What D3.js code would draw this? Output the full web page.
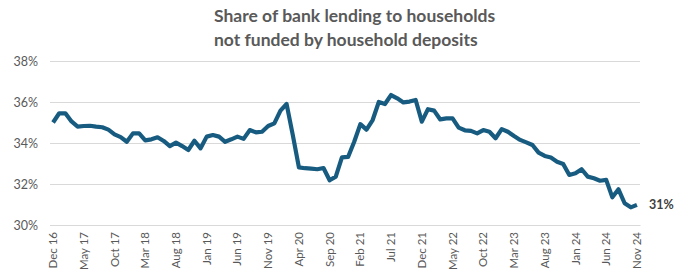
<!DOCTYPE html>
<html>
<head>
<meta charset="utf-8">
<script src="https://cdn.jsdelivr.net/npm/d3@7"></script>
<style>
  html, body { margin: 0; padding: 0; background: #ffffff; }
  svg { display: block; }
</style>
</head>
<body>
<svg id="chart" width="683" height="271"></svg>
<script>
// Monthly observations, Dec 2016 to Nov 2024
const monthNames = ["Jan","Feb","Mar","Apr","May","Jun","Jul","Aug","Sep","Oct","Nov","Dec"];
const startYear = 2016, startMonth = 11; // Dec 2016

const shareValues = [
  35.0, 35.45, 35.45, 35.05, 34.8, 34.83, 34.84, 34.8, 34.77, 34.65,
  34.42, 34.29, 34.06, 34.47, 34.47, 34.13, 34.18, 34.28, 34.1, 33.85,
  34.02, 33.85, 33.66, 34.11, 33.74, 34.31, 34.39, 34.31, 34.06, 34.18,
  34.31, 34.2, 34.63, 34.52, 34.55, 34.83, 34.96, 35.58, 35.9, 34.4,
  32.81, 32.77, 32.75, 32.72, 32.78, 32.18, 32.36, 33.3, 33.32, 34.06,
  34.92, 34.65, 35.12, 36.0, 35.9, 36.34, 36.18, 35.98, 36.02, 36.1,
  35.04, 35.65, 35.58, 35.15, 35.2, 35.2, 34.75, 34.62, 34.59, 34.47,
  34.63, 34.55, 34.23, 34.68, 34.55, 34.34, 34.15, 34.03, 33.9, 33.53,
  33.37, 33.29, 33.09, 32.98, 32.44, 32.52, 32.72, 32.36, 32.28, 32.16,
  32.2, 31.35, 31.74, 31.06, 30.86, 30.98
];

const months = shareValues.map((_, i) => {
  const m = (startMonth + i) % 12;
  const y = startYear + Math.floor((startMonth + i) / 12);
  return monthNames[m] + " " + String(y).slice(2);
});

const yTicks = [30, 32, 34, 36, 38];
const tickEvery = 5;
const titleLines = ["Share of bank lending to households", "not funded by household deposits"];
const endLabel = "31%";

const svg = d3.select("#chart");
const margin = { left: 50, right: 43, top: 61, bottom: 46 };
const W = 683, H = 271;

const x = d3.scaleBand()
  .domain(months)
  .range([margin.left, W - margin.right])
  .paddingInner(0).paddingOuter(0);

const y = d3.scaleLinear()
  .domain([30, 38])
  .range([H - margin.bottom, margin.top]);

const font = "Lato, 'Open Sans', sans-serif";

// Title
svg.append("g")
  .selectAll("text")
  .data(titleLines)
  .join("text")
  .attr("x", 214)
  .attr("y", (d, i) => 22 + i * 24)
  .attr("font-family", font)
  .attr("font-weight", 700)
  .attr("font-size", 17.5)
  .attr("fill", "#595959")
  .text(d => d);

// Horizontal gridlines and y labels
const yAxis = d3.axisLeft(y)
  .tickValues(yTicks)
  .tickSize(-(W - margin.left - margin.right))
  .tickPadding(12)
  .tickFormat(d => d + "%");

svg.append("g")
  .attr("transform", `translate(${margin.left},0)`)
  .call(yAxis)
  .call(g => g.select(".domain").remove())
  .call(g => g.selectAll(".tick line").attr("stroke", "#d9d9d9").attr("stroke-width", 1))
  .call(g => g.selectAll(".tick text")
    .attr("font-family", font)
    .attr("font-size", 12.5)
    .attr("fill", "#595959"));

// Category axis with rotated month labels
const xAxis = d3.axisBottom(x)
  .tickValues(months.filter((_, i) => i % tickEvery === 0))
  .tickSize(0)
  .tickPadding(6);

svg.append("g")
  .attr("transform", `translate(0,${y(30)})`)
  .call(xAxis)
  .call(g => g.select(".domain").attr("stroke", "#d9d9d9"))
  .call(g => g.selectAll(".tick text")
    .attr("font-family", font)
    .attr("font-size", 11.5)
    .attr("fill", "#595959")
    .attr("text-anchor", "end")
    .attr("dy", "0.35em")
    .attr("transform", "rotate(-90)")
    .attr("x", -7)
    .attr("y", 0));

// Series line
const line = d3.line()
  .x((d, i) => x(months[i]) + x.bandwidth() / 2)
  .y(d => y(d));

svg.append("path")
  .datum(shareValues)
  .attr("d", line)
  .attr("fill", "none")
  .attr("stroke", "#175c80")
  .attr("stroke-width", 4.2)
  .attr("stroke-linejoin", "round")
  .attr("stroke-linecap", "butt");

// End-point label
const last = shareValues.length - 1;
svg.append("text")
  .attr("x", x(months[last]) + x.bandwidth() / 2 + 12)
  .attr("y", y(shareValues[last]))
  .attr("dy", "0.35em")
  .attr("font-family", font)
  .attr("font-size", 12.5)
  .attr("font-weight", 700)
  .attr("fill", "#404040")
  .text(endLabel);
</script>
</body>
</html>
